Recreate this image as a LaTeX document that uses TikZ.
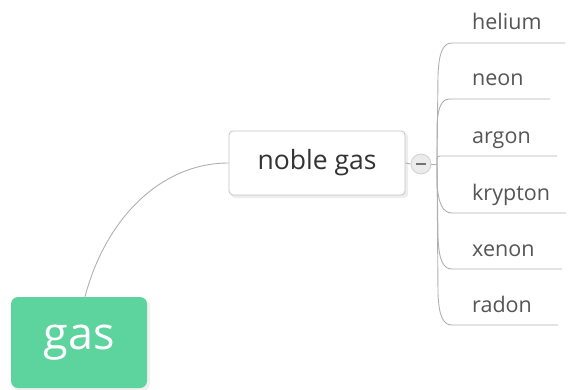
\documentclass[tikz,border=0pt]{standalone}
\usepackage{fontspec}
\setmainfont{Open Sans}
\definecolor{rootgreen}{HTML}{5DD39E}
\definecolor{linegray}{HTML}{B0B0B0}
\definecolor{boxgray}{HTML}{C4C4C4}
\definecolor{textdark}{HTML}{333333}
\definecolor{textmid}{HTML}{555555}
\begin{document}
\begin{tikzpicture}[x=1pt,y=-1pt,
  rootbox/.style={fill=rootgreen, draw=none, rounded corners=7pt, minimum width=136pt, minimum height=91pt, text=white, font=\fontsize{45}{48}\selectfont, inner sep=0pt},
  mainbox/.style={fill=white, draw=boxgray, line width=0.8pt, rounded corners=4pt, minimum width=176pt, minimum height=64pt, text=textdark, font=\fontsize{26.5}{28}\selectfont, inner sep=0pt},
  togglebox/.style={circle, fill=black!8, draw=black!18, line width=0.8pt, minimum size=20pt, inner sep=0pt},
  childtext/.style={anchor=base west, text=textmid, font=\fontsize{21.5}{24}\selectfont, inner sep=0pt},
  conn/.style={draw=linegray, line width=0.9pt},
]
\useasboundingbox (0,0) rectangle (569,390);
% shadows
\fill[black!6, rounded corners=7pt] (13,299) rectangle (150,391);
\fill[black!7, rounded corners=4pt] (231,133) rectangle (408,198);
\node[rootbox] (gas) at (79,342.5) {gas};
\node[mainbox] (noble) at (317,163) {noble gas};
\draw[conn] ([xshift=6pt]gas.north) .. controls (105,220) and (160,163) .. (noble.west);
\node[togglebox] (tog) at (421,164) {};
\draw[draw=black!55, line width=1.6pt] ([xshift=-5pt]tog.center) -- ([xshift=5pt]tog.center);
\draw[conn] (noble.east) -- (tog.west);
\coordinate (j) at (437,164);
\draw[conn] (tog.east) -- (j);
% children
\foreach \name/\txt/\y/\xs/\xe in {he/helium/43/452/565, ne/neon/99/450/550, ar/argon/156/440/557, kr/krypton/213/452/566, xe/xenon/269/452/562, rn/radon/325/452/558}{
  \coordinate (\name s) at (\xs,\y);
  \coordinate (\name e) at (\xe,\y);
  \node[childtext] (\name) at (472,\y-13) {\txt};
}
\draw[conn] (j) -- (438,75) .. controls (439,52) and (443,43) .. (hes) -- (hee);
\draw[conn] (j) -- (437,125) .. controls (438,106) and (442,99) .. (nes) -- (nee);
\draw[conn] (j) -- (437,158) .. controls (437,157) and (438,156) .. (ars) -- (are);
\draw[conn] (j) -- (437,182) .. controls (438,204) and (443,213) .. (krs) -- (kre);
\draw[conn] (j) -- (438,238) .. controls (439,260) and (443,269) .. (xes) -- (xee);
\draw[conn] (j) -- (438,294) .. controls (439,316) and (443,325) .. (rns) -- (rne);
\end{tikzpicture}
\end{document}
